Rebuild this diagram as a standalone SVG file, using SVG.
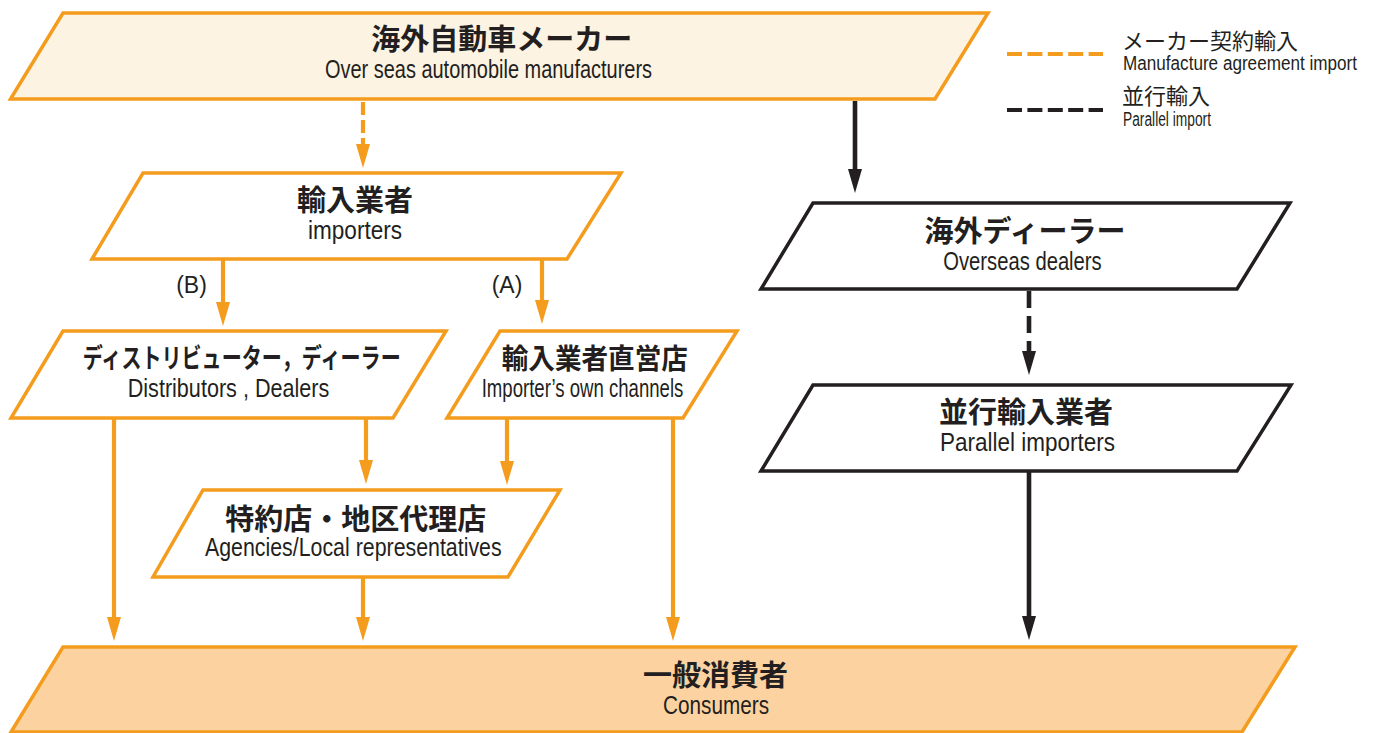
<svg xmlns="http://www.w3.org/2000/svg" width="1374" height="733" viewBox="0 0 1374 733">
<style>
.on{fill:#fff;stroke:#f49c1e;stroke-width:3.5;stroke-linejoin:miter}
.bn{fill:#fff;stroke:#231f20;stroke-width:3.5;stroke-linejoin:miter}
.jp{font-family:"Noto Sans CJK JP","Noto Sans",sans-serif;font-weight:700;font-size:29px;fill:#231f20;text-anchor:middle}
.en{font-family:"Liberation Sans","Noto Sans",sans-serif;font-size:25px;fill:#231f20;text-anchor:middle}
.lj{font-family:"Noto Sans CJK JP","Noto Sans",sans-serif;font-size:22px;fill:#231f20}
.le{font-family:"Liberation Sans","Noto Sans",sans-serif;font-size:20px;fill:#231f20}
.lb{font-family:"Liberation Sans","Noto Sans",sans-serif;font-size:23px;fill:#231f20;text-anchor:middle}
.oa{fill:none;stroke:#f49c1e;stroke-width:4.2}
.ba{fill:none;stroke:#231f20;stroke-width:4.6}
</style>
<defs>
<marker id="ho" markerUnits="userSpaceOnUse" markerWidth="26" markerHeight="16" refX="0" refY="7" orient="auto" viewBox="0 0 26 16">
<path d="M0,0 L24,7 L0,14 z" fill="#f49c1e"/>
</marker>
<marker id="hb" markerUnits="userSpaceOnUse" markerWidth="26" markerHeight="16" refX="0" refY="7" orient="auto" viewBox="0 0 26 16">
<path d="M0,0 L24,7 L0,14 z" fill="#231f20"/>
</marker>
</defs>

<g id="legend">
<line x1="1007" y1="54" x2="1103" y2="54" stroke="#f49c1e" stroke-width="4.2" stroke-dasharray="15 5.4"/>
<text class="lj" x="1122" y="49">メーカー契約輸入</text>
<text class="le" x="1123" y="69.5" textLength="234" lengthAdjust="spacingAndGlyphs">Manufacture agreement import</text>
<line x1="1007" y1="110" x2="1103" y2="110" stroke="#231f20" stroke-width="4.2" stroke-dasharray="15 5.4"/>
<text class="lj" x="1122" y="104">並行輸入</text>
<text class="le" x="1123" y="125.5" textLength="88" lengthAdjust="spacingAndGlyphs">Parallel import</text>
</g>

<g id="connectors">
<path class="oa" d="M363,102 V144" stroke-dasharray="13 5" marker-end="url(#ho)"/>
<path class="oa" d="M223,260 V302" marker-end="url(#ho)"/>
<path class="oa" d="M542,260 V300" marker-end="url(#ho)"/>
<path class="oa" d="M114,419 V617" marker-end="url(#ho)"/>
<path class="oa" d="M366,419 V460" marker-end="url(#ho)"/>
<path class="oa" d="M507,419 V461" marker-end="url(#ho)"/>
<path class="oa" d="M673,419 V617" marker-end="url(#ho)"/>
<path class="oa" d="M363,578 V617" marker-end="url(#ho)"/>
<path class="ba" d="M855,101 V169" marker-end="url(#hb)"/>
<path class="ba" d="M1029,291 V351" stroke-dasharray="17 8" marker-end="url(#hb)"/>
<path class="ba" d="M1029,472 V616" marker-end="url(#hb)"/>
<text class="lb" x="191.5" y="293">(B)</text>
<text class="lb" x="507" y="293">(A)</text>
</g>

<g id="n-manufacturers">
<polygon class="on" style="fill:#fdf3e3" points="63,13 988,13 935,99 10.5,99"/>
<text class="jp" x="501.7" y="50">海外自動車メーカー</text>
<text class="en" x="488.5" y="78" textLength="327" lengthAdjust="spacingAndGlyphs">Over seas automobile manufacturers</text>
</g>

<g id="n-importers">
<polygon class="on" points="143,173 621,173 567,259 92,259"/>
<text class="jp" x="355" y="211">輸入業者</text>
<text class="en" x="355" y="238.5" textLength="94" lengthAdjust="spacingAndGlyphs">importers</text>
</g>

<g id="n-distributors">
<polygon class="on" points="63,331 446,331 393,418 11,418"/>
<text class="jp" x="241.7" y="368" textLength="318" lengthAdjust="spacingAndGlyphs" style="font-size:27px">ディストリビューター，ディーラー</text>
<text class="en" x="228.5" y="397" textLength="201.6" lengthAdjust="spacingAndGlyphs">Distributors , Dealers</text>
</g>

<g id="n-own-channels">
<polygon class="on" points="500,331 737,331 683,418 447,418"/>
<text class="jp" x="594.8" y="369" textLength="186" lengthAdjust="spacingAndGlyphs" style="font-size:28px">輸入業者直営店</text>
<text class="en" x="582.5" y="397" textLength="201.6" lengthAdjust="spacingAndGlyphs">Importer’s own channels</text>
</g>

<g id="n-agencies">
<polygon class="on" points="203,490 560,490 508,577 153,577"/>
<text class="jp" x="355.8" y="530">特約店・地区代理店</text>
<text class="en" x="353.3" y="555.5" textLength="296.7" lengthAdjust="spacingAndGlyphs">Agencies/Local representatives</text>
</g>

<g id="n-overseas-dealers">
<polygon class="bn" points="813,203 1290,203 1237,289 761,289"/>
<text class="jp" x="1025" y="241.5">海外ディーラー</text>
<text class="en" x="1022.5" y="269.5" textLength="158.4" lengthAdjust="spacingAndGlyphs">Overseas dealers</text>
</g>

<g id="n-parallel-importers">
<polygon class="bn" points="813,385 1291,385 1237,471 761,471"/>
<text class="jp" x="1026" y="423">並行輸入業者</text>
<text class="en" x="1027.5" y="450.5" textLength="175" lengthAdjust="spacingAndGlyphs">Parallel importers</text>
</g>

<g id="n-consumers">
<polygon class="on" style="fill:#fcd3a0" points="63,647 1295,647 1242,732 11,732"/>
<text class="jp" x="715.5" y="686">一般消費者</text>
<text class="en" x="716" y="713.5" textLength="106" lengthAdjust="spacingAndGlyphs">Consumers</text>
</g>
</svg>
